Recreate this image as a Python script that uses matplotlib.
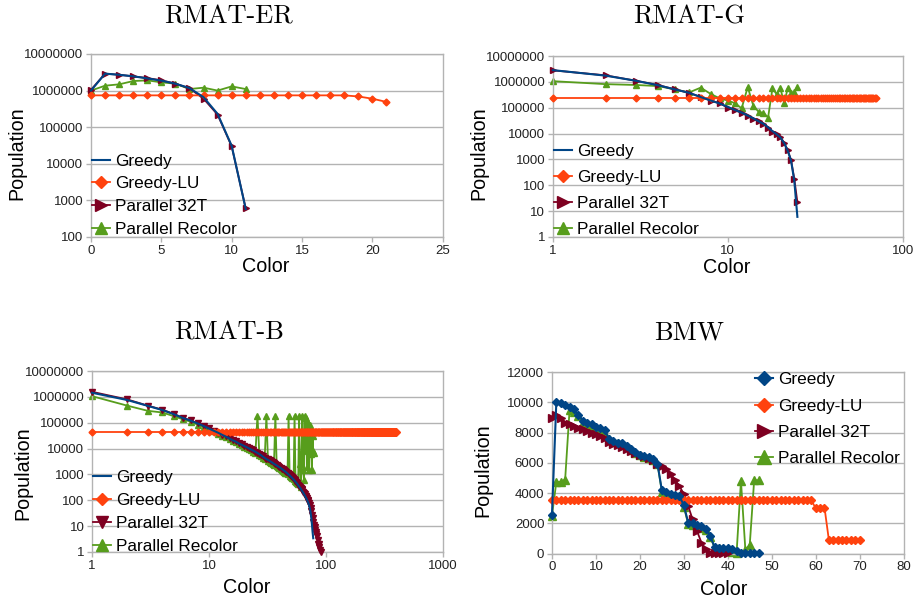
import matplotlib
matplotlib.use('Agg')
import matplotlib.pyplot as plt
from matplotlib.ticker import FixedLocator, FuncFormatter, NullLocator

plt.rcParams['font.family'] = ['Liberation Sans', 'DejaVu Sans']

BLUE = '#004586'
ORANGE = '#ff420e'
RED = '#7e0021'
GREEN = '#579d1c'
GRID = '#b3b3b3'

labels = ['Greedy', 'Greedy-LU', 'Parallel 32T', 'Parallel Recolor']

# ---- RMAT-ER (colors start at 0)
er_greedy = [1000000, 2900000, 2700000, 2450000, 2150000, 1870000, 1540000, 1170000,
             660000, 230000, 31000, 580]
er_par32 = [1050000, 2900000, 2700000, 2450000, 2200000, 1900000, 1550000, 1150000,
            600000, 220000, 30000, 600]
er_recolor = [1000000, 1360000, 1480000, 1820000, 1900000, 1680000, 1540000, 1100000,
              1200000, 1000000, 1300000, 1100000]
er_lu = [740000] * 19 + [690000, 600000, 490000]

# ---- RMAT-G (colors start at 1)
rg_greedy = [2860000, 1750000, 1100000, 740000, 510000, 380000, 260000, 190000, 145000, 108000,
             82000, 65000, 50000, 39000, 30000, 24000, 17500, 12500, 9500, 7000,
             4300, 2200, 900, 150, 6]
rg_par32 = [2800000, 1800000, 1100000, 760000, 510000, 380000, 260000, 190000, 150000, 100000,
            80000, 63000, 49000, 38000, 30000, 24000, 17000, 12000, 9500, 7500,
            4300, 2300, 940, 180, 22]
rg_recolor = [1070000, 820000, 760000, 690000, 510000, 390000, 600000, 340000, 230000, 190000,
              150000, 95000, 630000, 120000, 70000, 63000, 42000, 560000, 340000, 560000,
              150000, 560000, 360000, 400000, 650000]
rg_lu = [240000] * 70

# ---- RMAT-B (colors start at 1)
rb_greedy = [1450000, 760000, 450000, 310000, 215000, 152000, 120000, 94000, 75000, 60000,
             49000, 41000, 34000, 29000, 24500, 21000, 18500, 16000, 14200, 12700,
             11400, 10200, 9200, 8300, 7500, 6800, 6100, 5500, 4850, 4350,
             3950, 3650, 3350, 3080, 2830, 2600, 2400, 2220, 2060, 1920,
             1780, 1640, 1520, 1400, 1290, 1190, 1090, 1000, 920, 840,
             765, 700, 640, 580, 525, 475, 430, 385, 345, 310,
             280, 250, 222, 198, 175, 155, 137, 120, 105, 90,
             76, 62, 48, 35, 22, 12, 6, 3.4]
rb_par32 = [1580000, 800000, 460000, 320000, 220000, 156000, 123000, 96000, 77000, 61000,
            50000, 42000, 35000, 29500, 25000, 21500, 19000, 16500, 14500, 13000,
            11700, 10500, 9400, 8500, 7700, 7000, 6300, 5700, 5000, 4500,
            4100, 3800, 3500, 3200, 2950, 2700, 2500, 2300, 2150, 2000,
            1850, 1700, 1580, 1460, 1350, 1240, 1140, 1050, 960, 880,
            800, 730, 670, 610, 550, 500, 450, 405, 365, 330,
            300, 270, 240, 215, 190, 170, 150, 133, 118, 104,
            92, 78, 64, 50, 38, 28, 20, 14, 11, 9,
            7, 6, 5, 4, 3, 2, 2, 1.5, 1.2, 1]
rb_recolor = [1070000, 460000, 290000, 250000, 180000, 135000, 110000, 85000, 70000, 57000,
              46000, 38000, 32000, 27000, 23000, 20000, 17500, 15500, 13500, 12000,
              10700, 9600, 8600, 7700, 6900, 190000, 5600, 5000, 4500, 4100,
              190000, 3400, 3100, 2850, 2600, 2400, 190000, 2050, 1900, 1750,
              1620, 1500, 1390, 1290, 1190, 1100, 1020, 190000, 900, 830,
              760, 700, 640, 190000, 540, 500, 460, 420, 190000, 2500,
              330, 8000, 190000, 1500, 600, 190000, 9000, 150000, 2000, 100000,
              12000, 1500, 80000, 6000, 50000, 1500, 30000, 8000, 7000]
rb_lu = [44000] * 400

# ---- BMW (colors start at 0)
bmw_greedy = [2550, 10050, 9950, 9850, 9700, 9550, 9200, 8800, 8650, 8550,
              8400, 8300, 8150, 7600, 7450, 7350, 7300, 7100, 6950, 6750,
              6550, 6450, 6400, 6250, 5950, 4200, 4050, 3950, 3900, 3800,
              3200, 2050, 2000, 1900, 1800, 1650, 1150, 450, 400, 400,
              400, 330, 200, 70, 20, 20, 20, 20]
bmw_par32 = [9000, 9190, 8990, 8660, 8550, 8440, 8330, 8220, 8090, 8000,
             7890, 7780, 7650, 7390, 7280, 7170, 7060, 6900, 6770, 6660,
             6530, 6440, 6330, 6220, 5960, 5780, 5600, 5300, 4860, 4480,
             3930, 3140, 2260, 1500, 730, 290, 70, 20, 20, 20, 20]
bmw_recolor = [2500, 4750, 4750, 4900, 9470, 9360, 9080, 8660, 8550, 8440,
               8300, 8150, 7900, 7550, 7400, 7300, 7200, 7050, 6850, 6650,
               6500, 6400, 6350, 6200, 5950, 4100, 3950, 3850, 3750, 3650,
               3100, 1950, 1900, 1800, 1700, 1550, 1100, 400, 350, 300,
               250, 100, 50, 4800, 250, 600, 4850, 4850]
bmw_lu = [3540] * 60 + [3000, 3000, 3050] + [900] * 8


def style_axes(ax):
    for s in ax.spines.values():
        s.set_color(GRID)
        s.set_linewidth(1)
    ax.grid(axis='y', color=GRID, linewidth=1)
    ax.set_axisbelow(True)
    ax.tick_params(direction='out', length=3.5, width=1, color=GRID,
                   labelcolor='#222222', labelsize=9.5, pad=2)


def log_axis(axis, lo, hi):
    axis.set_major_locator(FixedLocator([10 ** k for k in range(lo, hi + 1)]))
    axis.set_minor_locator(NullLocator())
    axis.set_major_formatter(FuncFormatter(lambda v, p: '%d' % round(v)))


def series(ax, x0, greedy, lu, par32, recolor, par_marker, greedy_marker=None, ms=4.5):
    ax.plot(range(x0, x0 + len(recolor)), recolor, color=GREEN, marker='^', ms=ms + 0.5,
            lw=1.3, label=labels[3], zorder=2, clip_on=False)
    ax.plot(range(x0, x0 + len(par32)), par32, color=RED, marker=par_marker, ms=ms + 0.5,
            lw=1.3, label=labels[2], zorder=3, clip_on=False)
    ax.plot(range(x0, x0 + len(lu)), lu, color=ORANGE, marker='D', ms=ms - 1,
            lw=1.3, label=labels[1], zorder=4, clip_on=False)
    ax.plot(range(x0, x0 + len(greedy)), greedy, color=BLUE, marker=greedy_marker,
            ms=ms - 1, lw=1.5, label=labels[0], zorder=5, clip_on=False)


def legend(ax, loc, anchor, spacing):
    h, l = ax.get_legend_handles_labels()
    ax.legend(h[::-1], l[::-1], loc=loc, bbox_to_anchor=anchor, frameon=False,
              fontsize=12.4, borderpad=0, borderaxespad=0, handlelength=1.05,
              handletextpad=0.3, labelspacing=spacing, markerscale=1.8)


def labels_axes(ax, xl, yl):
    ax.set_xlabel('Color', fontsize=14.2)
    ax.set_ylabel('Population', fontsize=14.2)
    ax.xaxis.set_label_coords(*xl)
    ax.yaxis.set_label_coords(*yl)


fig = plt.figure(figsize=(9.23, 6.03), dpi=100)

# RMAT-ER
ax1 = fig.add_axes([0.0986, 0.607, 0.381, 0.3035])
series(ax1, 0, er_greedy, er_lu, er_par32, er_recolor, '>')
ax1.set_yscale('log')
ax1.set_ylim(100, 1e7)
ax1.set_xlim(0, 25)
log_axis(ax1.yaxis, 2, 7)
ax1.set_xticks([0, 5, 10, 15, 20, 25])
style_axes(ax1)
labels_axes(ax1, (0.496, -0.107), (-0.184, 0.46))
legend(ax1, 'lower left', (0.003, 0.0), 0.45)

# RMAT-G
ax2 = fig.add_axes([0.599, 0.607, 0.379, 0.300])
series(ax2, 1, rg_greedy, rg_lu, rg_par32, rg_recolor, '>')
ax2.set_xscale('log')
ax2.set_yscale('log')
ax2.set_ylim(1, 1e7)
ax2.set_xlim(1, 100)
log_axis(ax2.yaxis, 0, 7)
log_axis(ax2.xaxis, 0, 2)
style_axes(ax2)
labels_axes(ax2, (0.498, -0.114), (-0.185, 0.464))
legend(ax2, 'lower left', (0.003, 0.0), 0.63)

# RMAT-B
ax3 = fig.add_axes([0.0997, 0.0846, 0.380, 0.300])
series(ax3, 1, rb_greedy, rb_lu, rb_par32, rb_recolor, 'v')
ax3.set_xscale('log')
ax3.set_yscale('log')
ax3.set_ylim(1, 1e7)
ax3.set_xlim(1, 1000)
log_axis(ax3.yaxis, 0, 7)
log_axis(ax3.xaxis, 0, 3)
style_axes(ax3)
labels_axes(ax3, (0.44, -0.143), (-0.171, 0.435))
legend(ax3, 'lower left', (0.003, -0.01), 0.45)

# BMW
ax4 = fig.add_axes([0.598, 0.0818, 0.381, 0.301])
series(ax4, 0, bmw_greedy, bmw_lu, bmw_par32, bmw_recolor, '>', greedy_marker='D', ms=5)
ax4.set_ylim(0, 12000)
ax4.set_xlim(0, 80)
ax4.set_yticks(range(0, 12001, 2000))
ax4.set_xticks(range(0, 81, 10))
style_axes(ax4)
labels_axes(ax4, (0.488, -0.146), (-0.168, 0.46))
legend(ax4, 'upper left', (0.577, 1.0), 0.66)

title_kw = dict(fontsize=19, fontname='cmr10', ha='center', va='center')
fig.text(0.247, 0.972, 'RMAT-ER', **title_kw)
fig.text(0.7465, 0.972, 'RMAT-G', **title_kw)
fig.text(0.248, 0.448, 'RMAT-B', **title_kw)
fig.text(0.7465, 0.448, 'BMW', **title_kw)

fig.savefig('out.png', dpi=100)
